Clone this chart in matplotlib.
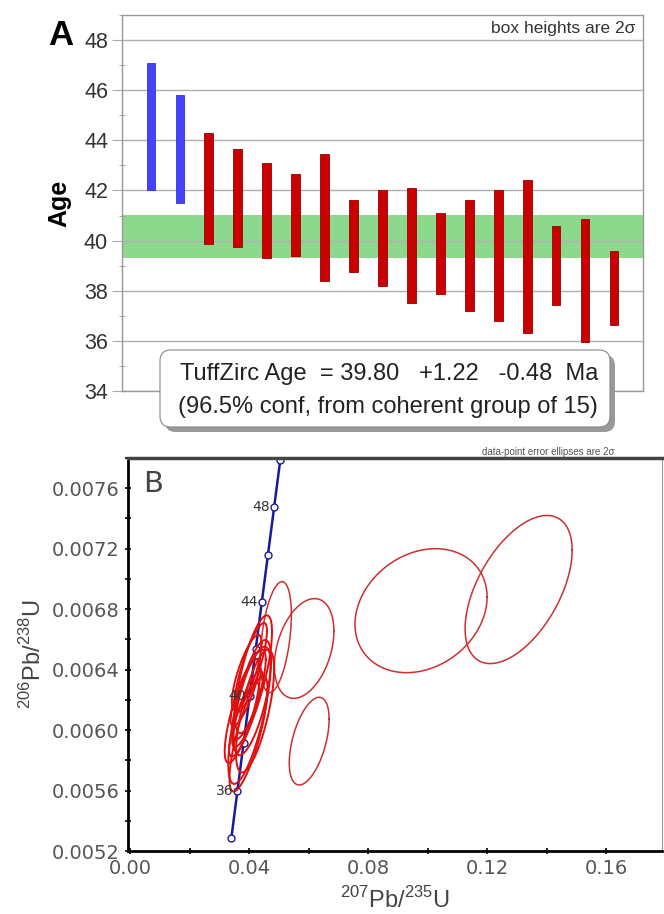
import numpy as np
import matplotlib
matplotlib.use('Agg')
import matplotlib.pyplot as plt
from matplotlib.patches import FancyBboxPatch
from matplotlib.ticker import MultipleLocator

# panel A: 2-sigma age boxes (Ma), in plotted order
box_top = [47.1, 45.8, 44.3, 43.65, 43.1, 42.65, 43.45, 41.6, 42.0, 42.1,
           41.1, 41.6, 42.0, 42.4, 40.6, 40.85, 39.6]
box_bottom = [42.0, 41.5, 39.85, 39.75, 39.3, 39.4, 38.4, 38.75, 38.2, 37.5,
              37.85, 37.2, 36.8, 36.3, 37.45, 35.95, 36.65]
box_rejected = [True, True, False, False, False, False, False, False, False,
                False, False, False, False, False, False, False, False]
tz_age = 39.80
tz_plus = 1.22
tz_minus = 0.48
tz_group = 15

# panel B: error ellipses (207Pb/235U, 206Pb/238U, 2s half widths, rho)
ell_x = [0.1306, 0.0978, 0.0490, 0.0585, 0.0602,
         0.0405, 0.0392, 0.0415, 0.0386, 0.0400, 0.0410,
         0.0395, 0.0378, 0.0420, 0.0402, 0.0383, 0.0398]
ell_y = [0.00693, 0.00679, 0.006615, 0.00654, 0.005927,
         0.006412, 0.006380, 0.006369, 0.006248, 0.006235, 0.006193,
         0.006140, 0.006126, 0.006126, 0.006120, 0.006071, 0.005975]
ell_sx = [0.0180, 0.0222, 0.0052, 0.0100, 0.0067,
          0.0055, 0.0050, 0.0062, 0.0048, 0.0056, 0.0062,
          0.0052, 0.0060, 0.0064, 0.0072, 0.0050, 0.0064]
ell_sy = [0.00049, 0.00041, 0.000367, 0.00033, 0.00029,
          0.000297, 0.00025, 0.00039, 0.000222, 0.000297, 0.000359,
          0.000253, 0.000343, 0.000406, 0.000476, 0.000247, 0.000381]
ell_rho = [0.53, 0.22, 0.40, 0.35, 0.50,
           0.82, 0.78, 0.72, 0.82, 0.78, 0.68,
           0.82, 0.78, 0.68, 0.72, 0.82, 0.78]

# concordia markers (Ma)
conc_age = [34, 36, 38, 40, 42, 44, 46, 48, 50]
conc_x = [0.034052, 0.036091, 0.038133, 0.040180, 0.042231, 0.044286,
          0.046345, 0.048408, 0.050475]
conc_y = [0.0052882, 0.0056001, 0.0059122, 0.0062243, 0.0065365, 0.0068489,
          0.0071613, 0.0074738, 0.0077864]
conc_labels = [36, 40, 44, 48]

plt.rcParams['font.family'] = ['Liberation Sans', 'DejaVu Sans']
plt.rcParams['mathtext.fontset'] = 'custom'
plt.rcParams['mathtext.rm'] = 'Liberation Sans'

fig = plt.figure(figsize=(6.64, 9.14), dpi=100)

# ---- panel A
ax = fig.add_axes([0.1837, 0.5722, 0.7846, 0.4114])
xs = np.arange(1, len(box_top) + 1)
heights = np.array(box_top) - np.array(box_bottom)
cols = ['#4444ff' if r else '#c80000' for r in box_rejected]
edges = ['#3333dd' if r else '#990000' for r in box_rejected]
ax.bar(xs, heights, bottom=box_bottom, width=0.3, color=cols,
       edgecolor=edges, linewidth=0.6, zorder=3)
ax.axhspan(tz_age - tz_minus, tz_age + tz_plus, color='#8cd88c', zorder=1.5, lw=0)
ax.set_xlim(0, len(box_top) + 1)
ax.set_ylim(34, 49)
ax.yaxis.set_major_locator(MultipleLocator(2))
ax.yaxis.set_minor_locator(MultipleLocator(1))
ax.set_xticks([])
ax.grid(axis='y', color='#b0b0b0', lw=1.0, zorder=1)
ax.tick_params(axis='y', which='major', direction='out', length=7, color='#aaaaaa',
               labelsize=15.5, labelcolor='#333333', pad=3)
ax.tick_params(axis='y', which='minor', direction='inout', length=5, color='#999999')
for s in ax.spines.values():
    s.set_color('#999999')
    s.set_linewidth(1.0)
ax.set_ylabel('Age', fontsize=18, fontweight='bold', labelpad=9)
ax.text(0.985, 0.965, 'box heights are 2σ', transform=ax.transAxes,
        ha='right', va='center', fontsize=12.5, color='#333333')
fig.text(48 / 664, 1 - 45 / 914, 'A', fontsize=25, fontweight='bold', va='baseline')

# result box with shadow
bx, by, bw, bh = 160 / 664, 1 - 427 / 914, 450 / 664, 77 / 914
shadow = FancyBboxPatch((bx + 5 / 664, by - 5 / 914), bw, bh,
                        boxstyle='round,pad=0,rounding_size=0.016',
                        mutation_aspect=664 / 914, transform=fig.transFigure,
                        fc='#999999', ec='none', zorder=5)
box = FancyBboxPatch((bx, by), bw, bh, boxstyle='round,pad=0,rounding_size=0.016',
                     mutation_aspect=664 / 914, transform=fig.transFigure,
                     fc='white', ec='#888888', lw=0.8, zorder=6)
fig.patches.extend([shadow, box])
fig.text(180 / 664, 1 - 374 / 914,
         f'TuffZirc Age  = {tz_age:.2f}   +{tz_plus:.2f}   -{tz_minus:.2f}  Ma',
         fontsize=17, color='#222222', va='center', zorder=7)
fig.text(178 / 664, 1 - 407 / 914,
         f'(96.5% conf, from coherent group of {tz_group})',
         fontsize=17, color='#222222', va='center', zorder=7)

# ---- panel B
bx2 = fig.add_axes([0.1928, 0.0689, 0.8042, 0.43])
bx2.plot(conc_x, conc_y, color='#1a1a99', lw=1.8, marker='o', ms=5,
         mfc='white', mec='#1a1a99', mew=1.0, zorder=2)
t = np.linspace(0, 2 * np.pi, 240)
for i, (cx, cy, sx, sy, rho) in enumerate(zip(ell_x, ell_y, ell_sx, ell_sy, ell_rho)):
    ex = cx + sx * np.cos(t)
    ey = cy + sy * (rho * np.cos(t) + np.sqrt(1 - rho ** 2) * np.sin(t))
    # outliers are drawn thinner and duller than the main cluster
    if i < 5:
        bx2.plot(ex, ey, color='#cc3030', lw=1.1, zorder=3)
    else:
        bx2.plot(ex, ey, color='#e01010', lw=1.4, zorder=3)
for a, x, y in zip(conc_age, conc_x, conc_y):
    if a in conc_labels:
        bx2.annotate(str(a), (x, y), xytext=(-3, 0), textcoords='offset points',
                     ha='right', va='center', fontsize=10, color='#333333',
                     family='DejaVu Sans', zorder=5)

bx2.set_xlim(-0.0007, 0.1788)
bx2.set_ylim(0.0052, 0.0078)
bx2.xaxis.set_major_locator(MultipleLocator(0.04))
bx2.xaxis.set_minor_locator(MultipleLocator(0.02))
bx2.yaxis.set_major_locator(MultipleLocator(0.0004))
bx2.yaxis.set_minor_locator(MultipleLocator(0.0002))
bx2.xaxis.set_major_formatter(plt.FormatStrFormatter('%.2f'))
bx2.yaxis.set_major_formatter(plt.FormatStrFormatter('%.4f'))
bx2.tick_params(which='both', direction='inout', length=5, width=1.2, color='black',
                labelsize=14, labelcolor='#555555')
for lab in bx2.get_xticklabels() + bx2.get_yticklabels():
    lab.set_family('DejaVu Sans')
bx2.spines['left'].set_linewidth(2.0)
bx2.spines['bottom'].set_linewidth(2.0)
bx2.spines['top'].set_linewidth(2.5)
bx2.spines['top'].set_color('#444444')
bx2.spines['right'].set_linewidth(0.8)
bx2.spines['right'].set_color('#999999')
bx2.set_xlabel(r'$^{207}$Pb/$^{235}$U', fontsize=17, color='#444444', labelpad=6)
bx2.set_ylabel(r'$^{206}$Pb/$^{238}$U', fontsize=17, color='#444444', labelpad=4)
bx2.text(0.028, 0.935, 'B', transform=bx2.transAxes, fontsize=21, color='#444444',
         family='DejaVu Sans', va='center')
fig.text(482 / 664, 1 - 452 / 914, 'data-point error ellipses are 2σ',
         fontsize=7, color='#555555', va='center')

fig.savefig('out.png', dpi=100)
